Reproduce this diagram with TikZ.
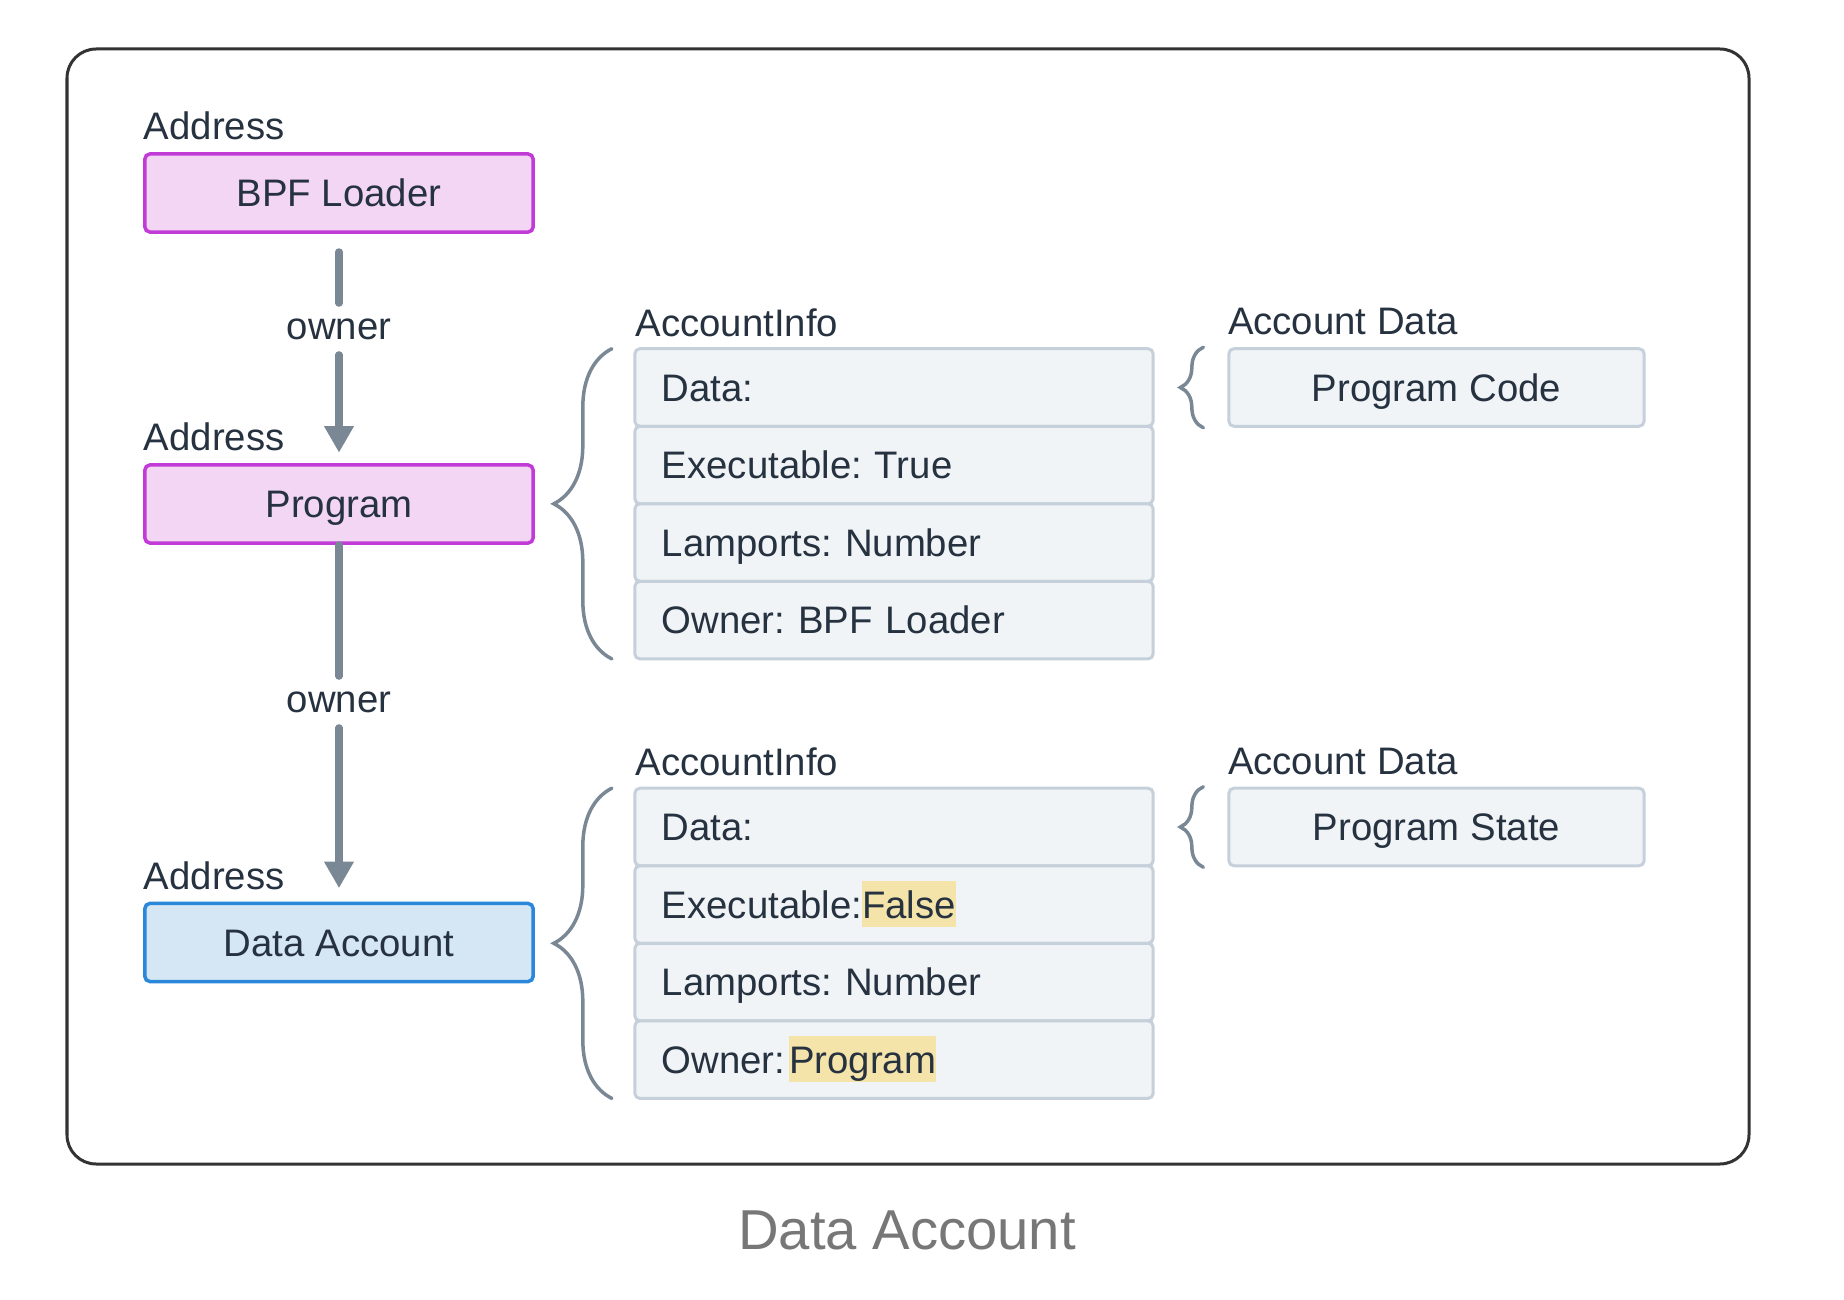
\documentclass[tikz,border=0pt]{standalone}
\usepackage{fontspec}
\setmainfont{Liberation Sans}
\usetikzlibrary{arrows.meta,positioning,decorations.pathreplacing}
\frenchspacing

\definecolor{ink}{RGB}{38,50,64}
\definecolor{pinkfill}{RGB}{242,214,243}
\definecolor{pinkline}{RGB}{193,60,214}
\definecolor{bluefill}{RGB}{213,230,245}
\definecolor{blueline}{RGB}{43,135,218}
\definecolor{rowfill}{RGB}{240,244,247}
\definecolor{rowline}{RGB}{197,208,218}
\definecolor{slate}{RGB}{122,135,149}
\definecolor{hlyellow}{RGB}{245,228,170}
\definecolor{framegray}{RGB}{51,51,51}
\definecolor{capgray}{RGB}{119,119,119}

\newcommand{\hlt}[1]{{\setlength{\fboxsep}{0pt}\colorbox{hlyellow}{\rule[-0.22em]{0pt}{1.19em}#1}}}

\tikzset{
  txt/.style={font=\fontsize{10.9}{13}\selectfont, text=ink},
  acct/.style={txt, draw, line width=0.035cm, rounded corners=0.05cm,
    minimum width=3.88cm, minimum height=0.78cm, text height=0.275cm, text depth=0pt},
  progbox/.style={acct, draw=pinkline, fill=pinkfill},
  databox/.style={acct, draw=blueline, fill=bluefill},
  inforow/.style={txt, draw=rowline, fill=rowfill, line width=0.03cm, rounded corners=0.05cm,
    minimum height=0.775cm, text width=4.64cm, inner xsep=0.27cm, inner ysep=0pt,
    text height=0.275cm, text depth=0pt, outer sep=0pt, align=left},
  stored/.style={txt, draw=rowline, fill=rowfill, line width=0.03cm, rounded corners=0.05cm,
    minimum width=4.15cm, minimum height=0.775cm, text height=0.275cm, text depth=0pt},
  lbl/.style={txt, inner sep=0pt},
  ownlbl/.style={txt, inner sep=0pt, minimum height=0.5cm},
  ownline/.style={draw=slate, line width=0.07cm, line cap=round},
  ownarrow/.style={ownline, -{Triangle[width=0.3cm,length=0.26cm,line width=0pt]}},
  brc/.style={draw=slate, line width=0.035cm, line cap=round, decorate},
}

\begin{document}
\begin{tikzpicture}[x=0.01cm,y=-0.01cm]
  \useasboundingbox (0,0) rectangle (1844,1300);
  \draw[framegray, line width=0.03cm, rounded corners=0.29cm] (67,49) rectangle (1749,1164);

  % accounts on the left
  \node[progbox] (bpf) at (339,193) {BPF Loader};
  \node[progbox] (prog) at (339,504) {Program};
  \node[databox] (dacc) at (339,942.5) {Data Account};
  \foreach \n in {bpf,prog,dacc}
    \node[lbl, above right=0.125cm and 0cm of \n.north west, anchor=base west] (addr-\n) {Address};

  % owner links
  \node[ownlbl] (own1) at (339,329) {owner};
  \node[ownlbl] (own2) at (339,702) {owner};
  \draw[ownline, shorten <=0.18cm] (bpf) -- (own1);
  \draw[ownarrow, shorten >=0.11cm] (own1) -- (prog);
  \draw[ownline] (prog) -- (own2);
  \draw[ownarrow, shorten >=0.14cm] (own2) -- (dacc);

  % AccountInfo of the program
  \node[inforow] (info1-1) at (894,387.5) {Data:};
  \node[inforow, below=0pt of info1-1] (info1-2) {Executable: True};
  \node[inforow, below=0pt of info1-2] (info1-3) {Lamports: Number};
  \node[inforow, below=0pt of info1-3] (info1-4) {Owner: BPF Loader};
  \node[lbl, above right=0.125cm and 0cm of info1-1.north west, anchor=base west] (infolbl1) {AccountInfo};

  % AccountInfo of the data account
  \node[inforow] (info2-1) at (894,827) {Data:};
  \node[inforow, below=0pt of info2-1] (info2-2) {Executable:\hlt{False}};
  \node[inforow, below=0pt of info2-2] (info2-3) {Lamports: Number};
  \node[inforow, below=0pt of info2-3] (info2-4) {Owner:\kern0.1em\hlt{Program}};
  \node[lbl, above right=0.125cm and 0cm of info2-1.north west, anchor=base west] (infolbl2) {AccountInfo};

  % account data
  \node[stored] (pcode) at (1436.5,387.5) {Program Code};
  \node[stored] (pstate) at (1436.5,827) {Program State};
  \node[lbl, above right=0.125cm and 0cm of pcode.north west, anchor=base west] (datalbl1) {Account Data};
  \node[lbl, above right=0.125cm and 0cm of pstate.north west, anchor=base west] (datalbl2) {Account Data};

  % braces
  \draw[brc, decoration={brace, amplitude=0.58cm}] ([xshift=-0.23cm]info1-4.south west) -- ([xshift=-0.23cm]info1-1.north west);
  \draw[brc, decoration={brace, amplitude=0.58cm}] ([xshift=-0.23cm]info2-4.south west) -- ([xshift=-0.23cm]info2-1.north west);
  \draw[brc, decoration={brace, amplitude=0.23cm}] ([xshift=-0.24cm]pcode.south west) -- ([xshift=-0.24cm]pcode.north west);
  \draw[brc, decoration={brace, amplitude=0.23cm}] ([xshift=-0.24cm]pstate.south west) -- ([xshift=-0.24cm]pstate.north west);

  \node[txt, font=\fontsize{16}{19}\selectfont, text=capgray, text height=0.404cm, text depth=0pt] (caption) at (907,1229) {Data Account};
\end{tikzpicture}
\end{document}
